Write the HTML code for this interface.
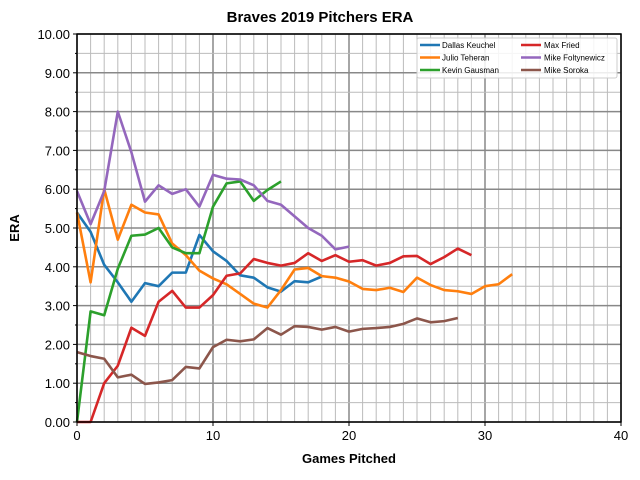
<!DOCTYPE html>
<html><head><meta charset="utf-8"><style>body{margin:0;background:#fff}svg{display:block}text{font-family:"Liberation Sans","DejaVu Sans",sans-serif}</style></head><body>
<svg width="640" height="480" xmlns="http://www.w3.org/2000/svg">
<rect width="640" height="480" fill="#fff"/>
<g id="grid"></g>
<g transform="translate(77,422) scale(13.6,-38.8)" fill="none" stroke-width="2.6" stroke-linejoin="round">
<polyline vector-effect="non-scaling-stroke" stroke="#1f77b4" points="0,5.4 1,4.9 2,4.05 3,3.6 4,3.1 5,3.58 6,3.5 7,3.85 8,3.85 9,4.82 10,4.4 11,4.15 12,3.78 13,3.72 14,3.47 15,3.36 16,3.63 17,3.6 18,3.75"/>
<polyline vector-effect="non-scaling-stroke" stroke="#ff7f0e" points="0,5.4 1,3.6 2,6.0 3,4.7 4,5.6 5,5.4 6,5.35 7,4.6 8,4.3 9,3.9 10,3.7 11,3.55 12,3.3 13,3.05 14,2.95 15,3.4 16,3.93 17,3.97 18,3.76 19,3.72 20,3.62 21,3.43 22,3.4 23,3.46 24,3.35 25,3.72 26,3.53 27,3.4 28,3.37 29,3.3 30,3.5 31,3.55 32,3.81"/>
<polyline vector-effect="non-scaling-stroke" stroke="#2ca02c" points="0,0 1,2.85 2,2.75 3,3.95 4,4.8 5,4.83 6,5.0 7,4.5 8,4.35 9,4.35 10,5.55 11,6.15 12,6.2 13,5.7 14,5.98 15,6.2"/>
<polyline vector-effect="non-scaling-stroke" stroke="#d62728" points="0,0 1,0 2,1.0 3,1.45 4,2.43 5,2.22 6,3.1 7,3.38 8,2.95 9,2.95 10,3.27 11,3.77 12,3.83 13,4.2 14,4.1 15,4.03 16,4.1 17,4.35 18,4.15 19,4.3 20,4.13 21,4.17 22,4.03 23,4.1 24,4.27 25,4.28 26,4.07 27,4.25 28,4.47 29,4.3"/>
<polyline vector-effect="non-scaling-stroke" stroke="#9467bd" points="0,5.95 1,5.1 2,5.95 3,8.0 4,6.95 5,5.68 6,6.1 7,5.88 8,6.0 9,5.55 10,6.37 11,6.27 12,6.25 13,6.1 14,5.7 15,5.6 16,5.3 17,5.0 18,4.8 19,4.45 20,4.52"/>
<polyline vector-effect="non-scaling-stroke" stroke="#8c564b" points="0,1.8 1,1.7 2,1.63 3,1.15 4,1.22 5,0.98 6,1.02 7,1.08 8,1.42 9,1.38 10,1.93 11,2.12 12,2.08 13,2.13 14,2.42 15,2.25 16,2.47 17,2.45 18,2.38 19,2.45 20,2.33 21,2.4 22,2.42 23,2.45 24,2.53 25,2.67 26,2.57 27,2.6 28,2.68"/>
</g>
<rect x="77" y="34" width="544" height="388" fill="none" stroke="#000" stroke-width="1.5"/>
<g id="ticks" font-size="13"></g>
<text x="320" y="22" text-anchor="middle" font-size="15" font-weight="bold">Braves 2019 Pitchers ERA</text>
<text x="349" y="463" text-anchor="middle" font-size="13" font-weight="bold">Games Pitched</text>
<text transform="translate(19,228) rotate(-90)" text-anchor="middle" font-size="13" font-weight="bold">ERA</text>
<g font-size="8">
<rect x="417" y="38" width="200" height="40" fill="#fff" fill-opacity="0.85" stroke="#ccc" rx="2"/>
<line x1="420" y1="45" x2="440" y2="45" stroke="#1f77b4" stroke-width="2.5"/><text x="442" y="48">Dallas Keuchel</text>
<line x1="420" y1="57.5" x2="440" y2="57.5" stroke="#ff7f0e" stroke-width="2.5"/><text x="442" y="60.5">Julio Teheran</text>
<line x1="420" y1="70" x2="440" y2="70" stroke="#2ca02c" stroke-width="2.5"/><text x="442" y="73">Kevin Gausman</text>
<line x1="521" y1="45" x2="541" y2="45" stroke="#d62728" stroke-width="2.5"/><text x="544" y="48">Max Fried</text>
<line x1="521" y1="57.5" x2="541" y2="57.5" stroke="#9467bd" stroke-width="2.5"/><text x="544" y="60.5">Mike Foltynewicz</text>
<line x1="521" y1="70" x2="541" y2="70" stroke="#8c564b" stroke-width="2.5"/><text x="544" y="73">Mike Soroka</text>
</g>
</svg>
<script>
var ns="http://www.w3.org/2000/svg",g=document.getElementById('grid'),t=document.getElementById('ticks');
function L(p,x1,y1,x2,y2,c,w){var l=document.createElementNS(ns,'line');l.setAttribute('x1',x1);l.setAttribute('y1',y1);l.setAttribute('x2',x2);l.setAttribute('y2',y2);l.setAttribute('stroke',c);l.setAttribute('stroke-width',w);p.appendChild(l);}
function T(x,y,s,a){var e=document.createElementNS(ns,'text');e.setAttribute('x',x);e.setAttribute('y',y);e.setAttribute('text-anchor',a);e.textContent=s;t.appendChild(e);}
for(var i=0;i<=40;i++){var x=77+i*13.6;L(g,x,34,x,422,i%10?'#bbb':'#888',i%10?1:1.5);}
for(var j=0;j<=20;j++){var y=422-j*19.4;L(g,77,y,621,y,j%2?'#bbb':'#888',j%2?1:1.5);}
for(var i=0;i<=40;i+=10){var x=77+i*13.6;L(t,x,422,x,426,'#000',1);T(x,440,String(i),'middle');}
for(var j=0;j<=20;j++){var y=422-j*19.4;L(t,j%2?75:73,y,77,y,'#000',1);if(j%2==0)T(70,y+5,(j/2).toFixed(2),'end');}
</script>
</body></html>
